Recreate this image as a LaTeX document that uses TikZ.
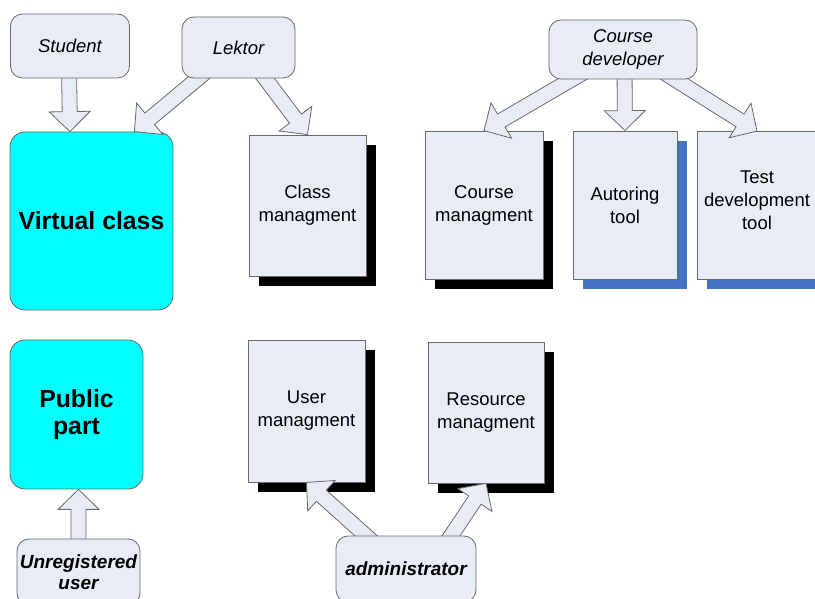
\documentclass[tikz,border=0pt]{standalone}
\usepackage{fontspec}
\setmainfont{Liberation Sans}
\usetikzlibrary{calc,shadows}
\definecolor{boxfill}{RGB}{232,236,246}
\definecolor{edgegray}{RGB}{105,105,105}
\definecolor{cyanfill}{RGB}{0,255,255}
\definecolor{shadowblue}{RGB}{68,114,196}
\pgfdeclarelayer{bglayer}
\pgfdeclarelayer{fglayer}
\pgfsetlayers{bglayer,main,fglayer}
\tikzset{
  actor/.style={draw=edgegray, fill=boxfill, rounded corners=12pt, line width=0.8pt,
    inner sep=0pt, align=center, font=\fontsize{18.5}{23}\selectfont\itshape},
  actorbold/.style={actor, font=\fontsize{19}{21.5}\selectfont\bfseries\itshape},
  area/.style={draw=edgegray, fill=cyanfill, rounded corners=15pt, line width=0.8pt,
    inner sep=0pt, align=center, font=\fontsize{24.8}{27.5}\selectfont\bfseries},
  docbase/.style={draw=edgegray, fill=boxfill, line width=0.8pt, inner sep=0pt,
    align=center, font=\fontsize{18.5}{23}\selectfont},
  docblack/.style={docbase, drop shadow={shadow xshift=10pt, shadow yshift=-10pt, fill=black, opacity=1}},
  docblue/.style={docbase, drop shadow={shadow xshift=10pt, shadow yshift=-10pt, fill=shadowblue, opacity=1}},
  barrow/.style={draw=edgegray, fill=boxfill, line width=0.8pt, line join=miter},
}
\newcommand\blockarrow[2]{%
  \path (#1) coordinate (ba-s) (#2) coordinate (ba-e);
  \path ($(ba-e)!20pt!(ba-s)$) coordinate (ba-c);
  \draw[barrow] ($(ba-s)!7.5pt!90:(ba-e)$) -- ($(ba-c)!7.5pt!90:(ba-e)$)
    -- ($(ba-c)!20.5pt!90:(ba-e)$) -- (ba-e) -- ($(ba-c)!20.5pt!-90:(ba-e)$)
    -- ($(ba-c)!7.5pt!-90:(ba-e)$) -- ($(ba-s)!7.5pt!-90:(ba-e)$) -- cycle;
}
\begin{document}
\begin{tikzpicture}[x=1pt,y=1pt]
\useasboundingbox (0,0) rectangle (815,598);
\begin{pgfonlayer}{bglayer}
\node[area, minimum width=163, minimum height=178] (vclass) at (91.5,377) {Virtual class};
\node[area, minimum width=133, minimum height=149] (public) at (76.5,183.5) {Public\\part};
\node[docblack, minimum width=117, minimum height=141] (classm) at (307.5,392.5) {Class\\managment};
\node[docblack, minimum width=118, minimum height=148] (coursem) at (484,393) {Course\\managment};
\node[docblue, minimum width=104, minimum height=148] (autor) at (625,393) {Autoring\\tool};
\node[docblue, minimum width=120, minimum height=148,
  label={[docbase, draw=none, fill=none, yshift=5pt]center:Test\\development\\tool}] (testdev) at (757,392.5) {};
\node[docblack, minimum width=117, minimum height=142] (userm) at (306.5,187) {User\\managment};
\node[docblack, minimum width=116, minimum height=141] (resm) at (486,185.5) {Resource\\managment};
\end{pgfonlayer}
\begin{pgfonlayer}{fglayer}
\node[actor, minimum width=119, minimum height=64] (student) at (70,552) {Student};
\node[actor, minimum width=113, minimum height=61] (lektor) at (238.5,550.5) {Lektor};
\node[actor, minimum width=148, minimum height=59] (coursedev) at (623,548.5) {Course\\developer};
\node[actorbold, minimum width=123, minimum height=66] (unreg) at (78.5,26) {Unregistered\\user};
\node[actorbold, minimum width=140, minimum height=66] (admin) at (406,29) {administrator};
\end{pgfonlayer}
% block arrows
\blockarrow{$(student.south)+(-1,10)$}{student.south |- vclass.north}
\blockarrow{$(lektor.south)+(-28.5,10)$}{$(vclass.north east)+(-39,0)$}
\blockarrow{$(lektor.south)+(19,10)$}{classm.north}
\blockarrow{$(coursedev.south)+(-34,10)$}{coursem.north}
\blockarrow{$(coursedev.south)+(1.5,10)$}{autor.north}
\blockarrow{$(coursedev.south)+(36,10)$}{testdev.north}
\blockarrow{$(unreg.north)+(0,-10)$}{unreg.north |- public.south}
\blockarrow{$(admin.north)+(-29,-10)$}{userm.south}
\blockarrow{$(admin.north)+(38.5,-10)$}{resm.south}
\end{tikzpicture}
\end{document}
